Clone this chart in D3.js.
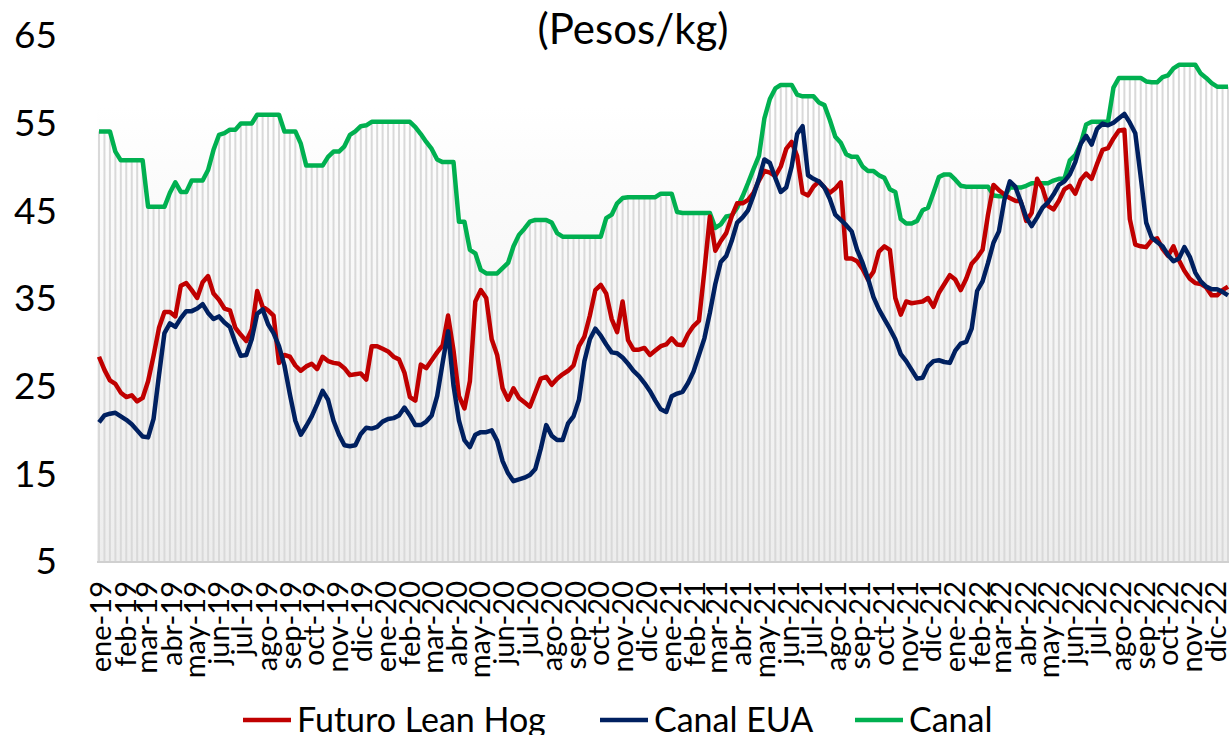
<!DOCTYPE html>
<html>
<head>
<meta charset="utf-8">
<script src="https://cdn.jsdelivr.net/npm/d3@7"></script>
<style>
  body { margin: 0; background: #fff; }
  svg { display: block; font-family: Lato, "Open Sans", sans-serif; }
</style>
</head>
<body>
<svg></svg>
<script>
/* jslint esversion:6 */

// weekly series, first week 2019-01-01, 208 weeks
var canal = [
  54.0,54.0,54.0,51.7,50.7,50.7,50.7,50.7,50.7,45.4,
  45.4,45.4,45.4,47.0,48.2,47.1,47.1,48.4,48.4,48.4,
  49.6,51.9,53.6,53.8,54.2,54.2,54.9,54.9,54.9,55.9,
  55.9,55.9,55.9,55.9,54.0,54.0,54.0,52.6,50.1,50.1,
  50.1,50.1,51.1,51.7,51.7,52.3,53.6,54.0,54.6,54.7,
  55.1,55.1,55.1,55.1,55.1,55.1,55.1,55.1,54.5,53.7,
  52.8,52.0,50.8,50.5,50.5,50.5,43.7,43.7,40.5,40.1,
  38.2,37.8,37.8,37.8,38.4,39.0,40.9,42.2,42.9,43.7,
  43.9,43.9,43.9,43.6,42.4,42.0,42.0,42.0,42.0,42.0,
  42.0,42.0,42.0,44.1,44.5,45.8,46.4,46.5,46.5,46.5,
  46.5,46.5,46.5,46.9,46.9,46.9,44.8,44.7,44.7,44.7,
  44.7,44.7,44.7,43.0,43.4,44.3,44.4,45.3,46.6,48.1,
  49.7,51.2,55.5,57.7,58.9,59.3,59.3,59.3,58.2,58.0,
  58.0,58.0,57.3,57.0,55.3,53.4,52.7,51.4,51.1,51.1,
  50.0,49.5,49.5,49.0,48.7,47.4,47.1,44.0,43.5,43.5,
  43.8,45.0,45.3,47.0,48.8,49.1,49.1,48.5,47.8,47.7,
  47.7,47.7,47.7,47.7,46.7,46.6,46.6,47.6,47.6,47.6,
  47.8,48.1,48.1,48.1,48.1,48.4,48.6,48.6,50.7,51.3,
  52.6,54.8,55.1,55.1,55.1,55.1,59.0,60.1,60.1,60.1,
  60.1,60.1,59.7,59.6,59.6,60.2,60.4,61.2,61.6,61.6,
  61.6,61.6,60.6,60.1,59.5,59.1,59.1,59.1
];

var futuroLeanHog = [
  28.3,26.8,25.6,25.2,24.2,23.7,23.9,23.2,23.6,25.5,
  28.4,31.6,33.4,33.4,32.9,36.4,36.7,35.9,35.0,36.8,
  37.5,35.5,34.8,33.8,33.6,31.6,30.8,30.1,31.4,35.8,
  34.0,33.6,33.0,27.6,28.5,28.3,27.3,26.7,27.2,27.5,
  26.9,28.3,27.8,27.6,27.5,27.0,26.2,26.3,26.4,25.7,
  29.5,29.5,29.2,28.9,28.3,28.0,26.5,23.7,23.3,27.4,
  27.0,27.9,28.8,29.6,33.0,29.0,23.8,22.4,25.5,34.6,
  35.9,35.0,30.3,28.5,24.7,23.4,24.7,23.6,23.1,22.6,
  24.2,25.8,26.0,25.1,25.8,26.3,26.7,27.3,29.5,30.6,
  33.0,35.9,36.5,35.5,32.6,31.1,34.6,30.2,29.1,29.1,
  29.3,28.5,29.0,29.5,29.7,30.4,29.7,29.6,30.9,31.8,
  32.4,38.1,44.3,40.4,41.5,42.4,44.3,45.8,45.8,46.2,
  47.0,48.4,49.5,49.3,48.9,50.0,52.0,52.8,51.2,47.0,
  46.7,47.7,48.3,47.6,47.0,47.5,48.2,39.5,39.5,39.2,
  38.3,37.1,38.0,40.3,40.9,40.5,35.0,33.1,34.6,34.4,
  34.5,34.6,35.0,34.0,35.6,36.6,37.6,37.1,35.9,37.2,
  38.9,39.6,40.5,44.5,47.9,47.3,46.8,46.4,46.1,46.0,
  43.8,44.7,48.6,47.5,45.5,45.1,46.1,47.4,47.8,46.9,
  48.5,49.2,48.6,50.3,51.9,52.1,53.2,54.1,54.2,44.0,
  41.1,40.9,40.8,41.6,41.8,40.6,39.8,40.9,39.3,38.1,
  37.2,36.7,36.6,36.2,35.3,35.3,35.9,36.3
];

var canalEUA = [
  20.8,21.6,21.8,21.9,21.5,21.1,20.6,19.9,19.2,19.1,
  21.2,26.2,31.0,32.1,31.7,32.7,33.5,33.5,33.8,34.3,
  33.3,32.6,32.9,32.2,31.7,29.9,28.4,28.5,30.3,33.2,
  33.7,32.0,31.0,29.5,27.3,24.0,21.0,19.4,20.4,21.5,
  22.9,24.4,23.4,21.0,19.4,18.2,18.1,18.2,19.5,20.2,
  20.1,20.3,20.9,21.2,21.3,21.6,22.5,21.6,20.5,20.5,
  20.9,21.6,23.8,27.6,31.2,25.0,21.0,18.8,18.0,19.4,
  19.7,19.7,19.9,18.7,16.4,15.0,14.1,14.3,14.5,14.8,
  15.5,17.8,20.5,19.3,18.8,18.8,20.7,21.5,23.4,27.8,
  30.3,31.5,30.7,29.7,28.8,28.7,28.2,27.5,26.7,26.1,
  25.3,24.4,23.3,22.3,22.0,23.8,24.1,24.3,25.3,26.6,
  28.5,30.4,33.3,36.6,39.1,39.8,41.5,43.6,44.2,45.0,
  46.7,48.6,50.8,50.4,48.7,47.1,47.6,50.0,53.7,54.6,
  49.0,48.6,48.3,47.6,46.3,44.5,43.9,43.3,42.6,40.5,
  39.0,37.2,35.1,33.7,32.6,31.5,30.3,28.6,27.8,26.8,
  25.8,25.9,27.2,27.8,27.9,27.7,27.6,29.0,29.8,30.0,
  31.5,35.8,36.9,39.0,41.3,42.6,46.2,48.3,47.7,46.0,
  44.2,43.2,44.2,45.3,45.9,46.8,47.9,48.3,49.1,50.5,
  52.6,53.5,52.5,54.3,54.9,54.7,55.0,55.5,56.0,55.0,
  53.8,48.8,43.6,41.9,41.4,40.9,39.9,39.2,39.5,40.8,
  39.7,37.9,36.9,36.3,36.0,36.0,35.7,35.3
];

var yTicks = [5, 15, 25, 35, 45, 55, 65];
var monthNames = ["ene", "feb", "mar", "abr", "may", "jun", "jul", "ago", "sep", "oct", "nov", "dic"];
var seriesNames = ["Futuro Lean Hog", "Canal EUA", "Canal"];
var seriesColors = ["#C00000", "#002060", "#00B050"];

document.addEventListener("DOMContentLoaded", function() {

  var width = 1230;
  var height = 735;
  var left = 99;
  var right = 1228;
  var top = 35;
  var bottom = 561;

  var firstWeek = new Date(2019, 0, 1);
  var weeks = canal.map((d, i) => d3.timeDay.offset(firstWeek, 7 * i));
  var months = d3.timeMonth.range(new Date(2019, 0, 1), new Date(2023, 0, 1));

  var xScale = d3.scaleTime()
                 .domain([weeks[0], weeks[weeks.length - 1]])
                 .range([left, right]);

  var yScale = d3.scaleLinear()
                 .domain([5, 65])
                 .range([bottom, top]);

  var svg = d3.select("svg")
      .attr("width", width)
      .attr("height", height);

  var defs = svg.append("defs");
  var grad = defs.append("linearGradient")
      .attr("id", "bg")
      .attr("x1", 0).attr("y1", 0)
      .attr("x2", 0).attr("y2", 1);
  grad.append("stop").attr("offset", "0%").attr("stop-color", "#ffffff");
  grad.append("stop").attr("offset", "13%").attr("stop-color", "#fcfcfc");
  grad.append("stop").attr("offset", "100%").attr("stop-color", "#ededed");

  // plot background
  svg.append("rect")
      .attr("x", left - 2)
      .attr("y", yScale(57))
      .attr("width", right - left + 3)
      .attr("height", bottom - yScale(57))
      .attr("fill", "url(#bg)");

  // Canal as thin columns
  svg.append("g")
    .selectAll("rect")
    .data(canal)
    .enter()
    .append("rect")
      .attr("x", (d, i) => xScale(weeks[i]) - 1)
      .attr("y", d => yScale(d))
      .attr("width", 2)
      .attr("height", d => bottom - yScale(d))
      .attr("fill", "#d9d9d9");

  // baseline
  svg.append("line")
      .attr("x1", left - 2)
      .attr("x2", right + 1)
      .attr("y1", bottom + 1)
      .attr("y2", bottom + 1)
      .attr("stroke", "#d0d0d0")
      .attr("stroke-width", 2);

  // y axis labels
  svg.append("g")
    .selectAll("text")
    .data(yTicks)
    .enter()
    .append("text")
      .text(d => d)
      .attr("x", 57)
      .attr("y", d => yScale(d))
      .attr("dy", "0.36em")
      .style("text-anchor", "end")
      .style("font-size", "37px")
      .attr("fill", "#000");

  // x axis month labels
  svg.append("g")
    .selectAll("text")
    .data(months)
    .enter()
    .append("text")
      .text(d => monthNames[d.getMonth()] + "-" + String(d.getFullYear()).slice(2))
      .attr("transform", d => "translate(" + (xScale(d) + 2) + "," + 581 + ") rotate(-90)")
      .attr("dy", "0.36em")
      .style("text-anchor", "end")
      .style("font-size", "29px")
      .attr("fill", "#000");

  // title
  svg.append("text")
      .text("(Pesos/kg)")
      .attr("x", 633)
      .attr("y", 44)
      .style("text-anchor", "middle")
      .style("font-size", "42px")
      .attr("fill", "#000");

  var line = d3.line()
      .x((d, i) => xScale(weeks[i]))
      .y(d => yScale(d));

  [canal, futuroLeanHog, canalEUA].forEach(function(series, k) {
    var color = [seriesColors[2], seriesColors[0], seriesColors[1]][k];
    svg.append("path")
        .datum(series)
        .attr("d", line)
        .attr("fill", "none")
        .attr("stroke", color)
        .attr("stroke-width", 4.5)
        .attr("stroke-linejoin", "round");
  });

  // legend
  var legendX = [243, 600, 855];
  var legend = svg.append("g")
    .selectAll("g")
    .data(seriesNames)
    .enter()
    .append("g")
      .attr("transform", (d, i) => "translate(" + legendX[i] + ",0)");

  legend.append("line")
      .attr("x1", 0)
      .attr("x2", 48)
      .attr("y1", 720)
      .attr("y2", 720)
      .attr("stroke", (d, i) => seriesColors[i])
      .attr("stroke-width", 4.5);

  legend.append("text")
      .text(d => d)
      .attr("x", 54)
      .attr("y", 732)
      .style("font-size", "34px")
      .attr("fill", "#000");
});
</script>
</body>
</html>
